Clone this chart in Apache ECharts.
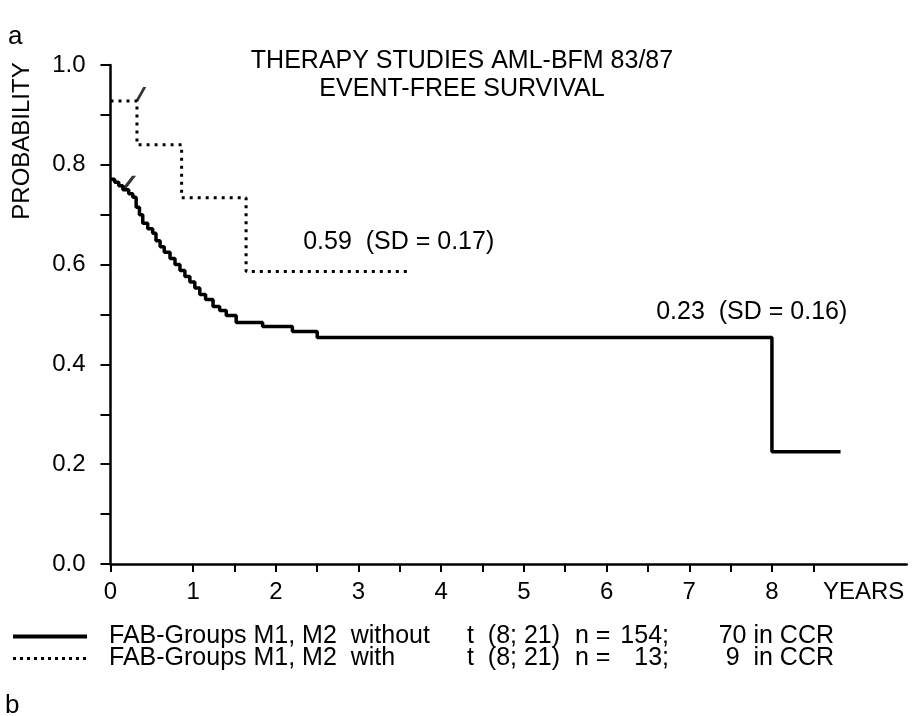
<!DOCTYPE html>
<html>
<head>
    <meta charset="utf-8">
    <title>AML-BFM 83/87 EFS</title>
    <script type="text/javascript" src="https://cdn.jsdelivr.net/npm/echarts@6/dist/echarts.min.js"></script>
    <style>
        html, body { margin: 0; padding: 0; background: #fff; }
    </style>
</head>
<body>
<div id="main" style="width: 923px;height:716px;"></div>
<script type="text/javascript">
    // kaplan-meier steps (years, probability)
    var withoutYears = [0.00, 0.05, 0.10, 0.15, 0.22, 0.27, 0.31, 0.35, 0.39, 0.45, 0.51, 0.55, 0.60, 0.65, 0.72, 0.78,
        0.84, 0.90, 0.96, 1.02, 1.08, 1.15, 1.24, 1.32, 1.40, 1.52, 1.84, 2.20, 2.50, 8.00, 8.83];
    var withoutProb = [0.771, 0.765, 0.758, 0.750, 0.742, 0.735, 0.715, 0.700, 0.683, 0.672, 0.663, 0.648, 0.636, 0.625, 0.612, 0.600,
        0.588, 0.576, 0.565, 0.553, 0.540, 0.530, 0.516, 0.508, 0.498, 0.484, 0.476, 0.466, 0.454, 0.225, 0.225];

    var withYears = [0.00, 0.32, 0.86, 1.64, 3.62];
    var withProb = [0.928, 0.840, 0.734, 0.586, 0.586];

    // censoring marks
    var censorWithout = [[0.14, 0.752]];
    var censorWith = [[0.30, 0.928]];

    var seriesNames = ['without', 'with'];
    var legendCols = {
        'without': ['FAB-Groups M1, M2  without', 't  (8; 21)', 'n =', '154;', '70 in CCR'],
        'with': ['FAB-Groups M1, M2  with', 't  (8; 21)', 'n =', '13;', '9  in CCR']
    };

    var xTicks = [0, 1, 1.5, 2, 2.5, 3, 3.5, 4, 4.5, 5, 5.5, 6, 6.5, 7, 7.5, 8, 8.5];
    var xLabels = [0, 1, 2, 3, 4, 5, 6, 7, 8];
    var yTicks = [0, 0.1, 0.2, 0.3, 0.4, 0.5, 0.6, 0.7, 0.8, 0.9, 1.0];
    var yLabels = [0, 0.2, 0.4, 0.6, 0.8, 1.0];

    var notes = [
        {text: '0.59  (SD = 0.17)', at: [2.33, 0.645]},
        {text: '0.23  (SD = 0.16)', at: [6.60, 0.505]}
    ];

    var FONT = "'Liberation Sans', Arial, Helvetica, sans-serif";

    function pairs(xs, ys) {
        return xs.map(function (x, i) { return [x, ys[i]]; });
    }

    var censorSymbol = 'path://M0,16 L4,16 L14,0 L10,0 Z';
    var solidStyle = {color: '#000', width: 3.5};
    var dotStyle = {color: '#000', width: 3, type: [3, 5]};

    var myChart = echarts.init(document.getElementById('main'));
    var option = {
        animation: false,
        backgroundColor: '#fff',
        textStyle: {fontFamily: FONT, color: '#000'},
        title: {
            text: 'THERAPY STUDIES AML-BFM 83/87\nEVENT-FREE SURVIVAL',
            left: 457,
            top: 42,
            textAlign: 'center',
            textStyle: {fontFamily: FONT, fontSize: 25, fontWeight: 'normal', lineHeight: 28, color: '#000'}
        },
        grid: {left: 110.5, right: 16.3, top: 65, bottom: 152},
        legend: {
            orient: 'vertical',
            left: 6,
            top: 619,
            itemWidth: 74,
            itemHeight: 12,
            itemGap: -3,
            selectedMode: false,
            data: [
                {name: seriesNames[0], lineStyle: {width: 4, color: '#000', type: 'solid'}},
                {name: seriesNames[1], lineStyle: {width: 3, color: '#000', type: [3, 4]}}
            ],
            itemStyle: {opacity: 0},
            formatter: function (name) {
                var c = legendCols[name];
                return '{sp| }{a|' + c[0] + '}{b|' + c[1] + '}{c|' + c[2] + '}{d|' + c[3] + '}{e|' + c[4] + '}';
            },
            textStyle: {
                fontFamily: FONT, fontSize: 25, color: '#000', lineHeight: 21,
                rich: {
                    sp: {width: 17, fontSize: 25, lineHeight: 21},
                    a: {width: 358, fontSize: 25, lineHeight: 21, fontFamily: FONT},
                    b: {width: 108, fontSize: 25, lineHeight: 21, fontFamily: FONT},
                    c: {width: 40, fontSize: 25, lineHeight: 21, fontFamily: FONT},
                    d: {width: 54, fontSize: 25, lineHeight: 21, align: 'right', fontFamily: FONT},
                    e: {width: 165, fontSize: 25, lineHeight: 21, align: 'right', fontFamily: FONT}
                }
            }
        },
        xAxis: {
            type: 'value',
            min: 0,
            max: 9.63,
            name: 'YEARS',
            nameLocation: 'end',
            nameGap: -43,
            nameTextStyle: {fontFamily: FONT, fontSize: 24, color: '#000', align: 'center', verticalAlign: 'top', padding: [16, 0, 0, 0]},
            splitLine: {show: false},
            axisLine: {onZero: false, lineStyle: {color: '#000', width: 2.5}},
            axisTick: {show: true, length: 8, customValues: xTicks, lineStyle: {color: '#000', width: 2}},
            axisLabel: {customValues: xLabels, margin: 16, fontFamily: FONT, fontSize: 24, color: '#000'}
        },
        yAxis: {
            type: 'value',
            min: 0,
            max: 1,
            splitLine: {show: false},
            axisLine: {show: true, onZero: false, lineStyle: {color: '#000', width: 2.5}},
            axisTick: {show: true, length: 10, customValues: yTicks, lineStyle: {color: '#000', width: 2}},
            axisLabel: {
                customValues: yLabels, margin: 25, fontFamily: FONT, fontSize: 24, color: '#000',
                formatter: function (v) { return v.toFixed(1); }
            }
        },
        graphic: [
            {type: 'text', x: 22, y: 141, rotation: Math.PI / 2,
                style: {text: 'PROBABILITY', font: '24px ' + FONT, fill: '#000', align: 'center', verticalAlign: 'middle'}},
            {type: 'text', x: 8, y: 37,
                style: {text: 'a', font: '26px ' + FONT, fill: '#000', align: 'left', verticalAlign: 'middle'}},
            {type: 'text', x: 5, y: 706,
                style: {text: 'b', font: '26px ' + FONT, fill: '#000', align: 'left', verticalAlign: 'middle'}}
        ],
        series: [
            {
                name: 'without',
                type: 'line',
                step: 'end',
                symbol: 'none',
                data: pairs(withoutYears, withoutProb),
                lineStyle: solidStyle,
                itemStyle: {color: '#000'},
                markPoint: {
                    symbol: 'rect', symbolSize: 1, itemStyle: {color: 'transparent'},
                    data: [{coord: notes[1].at, value: notes[1].text}],
                    label: {show: true, position: 'inside', align: 'left', verticalAlign: 'middle',
                        fontFamily: FONT, fontSize: 25, color: '#000',
                        formatter: function (p) { return p.value; }}
                }
            },
            {
                name: 'with',
                type: 'line',
                step: 'end',
                symbol: 'none',
                data: pairs(withYears, withProb),
                lineStyle: dotStyle,
                itemStyle: {color: '#000'},
                markPoint: {
                    symbol: 'rect', symbolSize: 1, itemStyle: {color: 'transparent'},
                    data: [{coord: notes[0].at, value: notes[0].text}],
                    label: {show: true, position: 'inside', align: 'left', verticalAlign: 'middle',
                        fontFamily: FONT, fontSize: 25, color: '#000',
                        formatter: function (p) { return p.value; }}
                }
            },
            {
                name: 'censor1',
                type: 'scatter',
                symbol: censorSymbol,
                symbolSize: [14, 13],
                symbolOffset: [7, -6.5],
                data: censorWithout,
                itemStyle: {color: '#000'}
            },
            {
                name: 'censor2',
                type: 'scatter',
                symbol: censorSymbol,
                symbolSize: [11, 14],
                symbolOffset: [5.5, -7],
                data: censorWith,
                itemStyle: {color: '#000'}
            }
        ]
    };
    myChart.setOption(option);
</script>
</body>
</html>
